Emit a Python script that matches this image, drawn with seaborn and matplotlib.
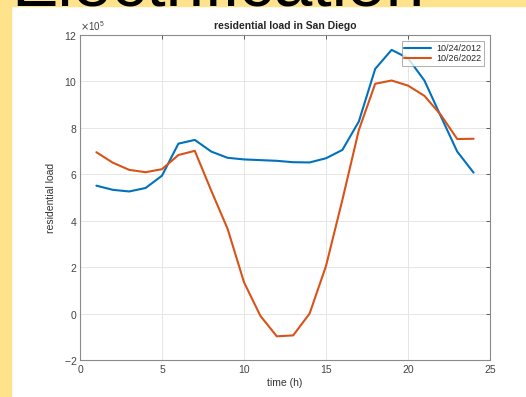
import matplotlib
matplotlib.use("Agg")
import matplotlib.pyplot as plt
from matplotlib.patches import Rectangle
from matplotlib.ticker import ScalarFormatter
import seaborn as sns
import pandas as pd

# hourly residential load, San Diego
hours = list(range(1, 25))
load_2012 = [5.51, 5.33, 5.26, 5.41, 5.94, 7.32, 7.48, 6.98, 6.71, 6.64, 6.61, 6.58,
             6.52, 6.51, 6.69, 7.05, 8.27, 10.54, 11.36, 11.0, 10.04, 8.5, 6.98, 6.07]
load_2022 = [6.95, 6.5, 6.19, 6.09, 6.22, 6.83, 7.01, 5.3, 3.65, 1.35, -0.1, -0.98,
             -0.94, 0.0, 2.05, 4.9, 7.9, 9.9, 10.04, 9.82, 9.38, 8.56, 7.52, 7.53]
labels = ["10/24/2012", "10/26/2022"]
scale = 1e5

df = pd.concat([
    pd.DataFrame({"hour": hours, "load": [v * scale for v in load_2012], "day": labels[0]}),
    pd.DataFrame({"hour": hours, "load": [v * scale for v in load_2022], "day": labels[1]}),
])

sns.set_style("white")
plt.rcParams["font.family"] = ["Liberation Sans", "DejaVu Sans"]

fig = plt.figure(figsize=(5.26, 3.97), dpi=100)
fig.patches.append(Rectangle((0, 0), 11 / 526, 1, transform=fig.transFigure,
                             color="#FEE28C", zorder=-1))
fig.patches.append(Rectangle((0, 1 - 6 / 397), 1, 6 / 397, transform=fig.transFigure,
                             color="#FEE28C", zorder=-1))
fig.text(11 / 526, 1 - 5 / 397, "Electrification", fontsize=50, color="black",
         ha="left", va="baseline")

ax = fig.add_axes([80 / 526, 1 - 360 / 397, 410 / 526, 325 / 397])
sns.lineplot(data=df, x="hour", y="load", hue="day",
             palette=["#0072BD", "#D95319"], linewidth=1.5, ax=ax)

ax.set_xlim(0, 25)
ax.set_ylim(-2 * scale, 12 * scale)
ax.set_xticks(range(0, 26, 5))
ax.set_yticks([v * scale for v in range(-2, 13, 2)])
fmt = ScalarFormatter(useMathText=True)
fmt.set_powerlimits((5, 5))
ax.yaxis.set_major_formatter(fmt)
ax.yaxis.get_offset_text().set_fontsize(7)
ax.yaxis.get_offset_text().set_color("#444444")

ax.grid(True, color="#e6e6e6", linewidth=0.7)
ax.tick_params(direction="in", length=3, labelsize=7.5, colors="#444444",
               top=True, right=True, width=0.6)
ax.tick_params(axis="y", pad=2)
for s in ax.spines.values():
    s.set_color("#8a8a8a")
    s.set_linewidth(0.8)

ax.set_title("residential load in San Diego", fontsize=7.5, fontweight="bold", pad=4)
ax.set_xlabel("time (h)", fontsize=7.5, color="#333333", labelpad=2)
ax.set_ylabel("residential load", fontsize=7.5, color="#333333", labelpad=6)

leg = ax.legend(loc="upper right", fontsize=6.5, frameon=True, fancybox=False,
                edgecolor="#8a8a8a", handlelength=3.0, handletextpad=0.5,
                borderpad=0.3, labelspacing=0.1, borderaxespad=0.7)
leg.get_frame().set_linewidth(0.6)
leg.set_title(None)

fig.savefig("out.png", dpi=100, facecolor="white")
